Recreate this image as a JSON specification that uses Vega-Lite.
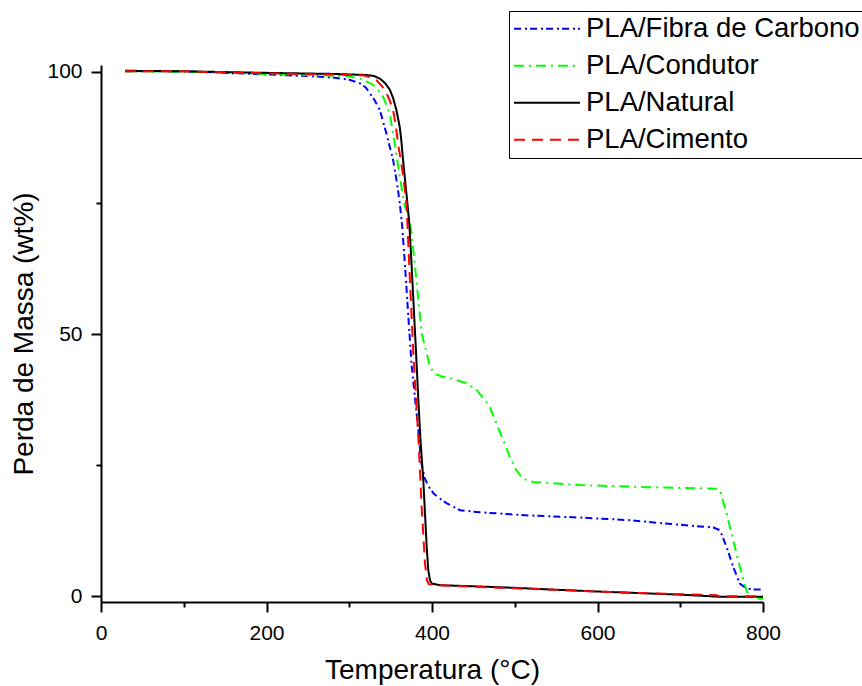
{
  "$schema": "https://vega.github.io/schema/vega-lite/v6.json",
  "autosize": {"type": "none"},
  "padding": {"left": 101, "top": 65, "right": 99, "bottom": 84},
  "width": 662,
  "height": 537,
  "background": "white",
  "config": {
    "font": "Liberation Sans",
    "view": {"stroke": null},
    "axis": {
      "grid": false,
      "domainColor": "black",
      "domainWidth": 2,
      "tickColor": "black",
      "tickWidth": 2,
      "labelColor": "black",
      "labelFontSize": 21,
      "labelFont": "Liberation Sans",
      "labelFlush": false,
      "titleColor": "black",
      "titleFontSize": 28,
      "titleFontWeight": "normal",
      "titleFont": "Liberation Sans"
    },
    "legend": {
      "title": null,
      "orient": "none",
      "legendX": 408,
      "legendY": -54,
      "padding": 4,
      "strokeColor": "black",
      "fillColor": "white",
      "labelFontSize": 27.5,
      "labelFont": "Liberation Sans",
      "labelColor": "black",
      "labelOffset": 5,
      "labelLimit": 500,
      "rowPadding": 8,
      "clipHeight": 27.5,
      "symbolType": "stroke",
      "symbolSize": 4356,
      "symbolStrokeWidth": 2
    }
  },
  "data": {
    "values": [
      {"s": "PLA/Fibra de Carbono", "T": 29, "W": 100.1},
      {"s": "PLA/Fibra de Carbono", "T": 100, "W": 100.1},
      {"s": "PLA/Fibra de Carbono", "T": 150, "W": 99.8},
      {"s": "PLA/Fibra de Carbono", "T": 200, "W": 99.5},
      {"s": "PLA/Fibra de Carbono", "T": 250, "W": 99.2},
      {"s": "PLA/Fibra de Carbono", "T": 280, "W": 98.9},
      {"s": "PLA/Fibra de Carbono", "T": 300, "W": 98.5},
      {"s": "PLA/Fibra de Carbono", "T": 313, "W": 97.8},
      {"s": "PLA/Fibra de Carbono", "T": 320, "W": 97},
      {"s": "PLA/Fibra de Carbono", "T": 325, "W": 95.9},
      {"s": "PLA/Fibra de Carbono", "T": 331, "W": 94.5},
      {"s": "PLA/Fibra de Carbono", "T": 337, "W": 92.7},
      {"s": "PLA/Fibra de Carbono", "T": 345, "W": 88.2},
      {"s": "PLA/Fibra de Carbono", "T": 353, "W": 83.2},
      {"s": "PLA/Fibra de Carbono", "T": 358, "W": 78.5},
      {"s": "PLA/Fibra de Carbono", "T": 361, "W": 75},
      {"s": "PLA/Fibra de Carbono", "T": 364, "W": 70.5},
      {"s": "PLA/Fibra de Carbono", "T": 367.4, "W": 63},
      {"s": "PLA/Fibra de Carbono", "T": 371.4, "W": 53.3},
      {"s": "PLA/Fibra de Carbono", "T": 375.4, "W": 44},
      {"s": "PLA/Fibra de Carbono", "T": 379, "W": 38.5},
      {"s": "PLA/Fibra de Carbono", "T": 383.5, "W": 31.7},
      {"s": "PLA/Fibra de Carbono", "T": 387, "W": 25.5},
      {"s": "PLA/Fibra de Carbono", "T": 391, "W": 22.6},
      {"s": "PLA/Fibra de Carbono", "T": 396, "W": 20.9},
      {"s": "PLA/Fibra de Carbono", "T": 402, "W": 19.6},
      {"s": "PLA/Fibra de Carbono", "T": 408, "W": 18.8},
      {"s": "PLA/Fibra de Carbono", "T": 418, "W": 17.7},
      {"s": "PLA/Fibra de Carbono", "T": 434, "W": 16.4},
      {"s": "PLA/Fibra de Carbono", "T": 458, "W": 16.0},
      {"s": "PLA/Fibra de Carbono", "T": 518, "W": 15.4},
      {"s": "PLA/Fibra de Carbono", "T": 579, "W": 15.0},
      {"s": "PLA/Fibra de Carbono", "T": 639, "W": 14.5},
      {"s": "PLA/Fibra de Carbono", "T": 680, "W": 13.9},
      {"s": "PLA/Fibra de Carbono", "T": 740, "W": 13.1},
      {"s": "PLA/Fibra de Carbono", "T": 748, "W": 12.6},
      {"s": "PLA/Fibra de Carbono", "T": 756, "W": 9.4},
      {"s": "PLA/Fibra de Carbono", "T": 764, "W": 5.6},
      {"s": "PLA/Fibra de Carbono", "T": 772, "W": 2.4},
      {"s": "PLA/Fibra de Carbono", "T": 780, "W": 1.5},
      {"s": "PLA/Fibra de Carbono", "T": 790, "W": 1.3},
      {"s": "PLA/Fibra de Carbono", "T": 800, "W": 1.3},

      {"s": "PLA/Condutor", "T": 29, "W": 100.1},
      {"s": "PLA/Condutor", "T": 100, "W": 100.0},
      {"s": "PLA/Condutor", "T": 150, "W": 99.8},
      {"s": "PLA/Condutor", "T": 200, "W": 99.6},
      {"s": "PLA/Condutor", "T": 250, "W": 99.4},
      {"s": "PLA/Condutor", "T": 297, "W": 99.2},
      {"s": "PLA/Condutor", "T": 313, "W": 98.7},
      {"s": "PLA/Condutor", "T": 322, "W": 98.1},
      {"s": "PLA/Condutor", "T": 329, "W": 97.5},
      {"s": "PLA/Condutor", "T": 335, "W": 96.5},
      {"s": "PLA/Condutor", "T": 341, "W": 95.2},
      {"s": "PLA/Condutor", "T": 349, "W": 92},
      {"s": "PLA/Condutor", "T": 355, "W": 86.3},
      {"s": "PLA/Condutor", "T": 361, "W": 80},
      {"s": "PLA/Condutor", "T": 367, "W": 74.5},
      {"s": "PLA/Condutor", "T": 371, "W": 73},
      {"s": "PLA/Condutor", "T": 375.4, "W": 69.2},
      {"s": "PLA/Condutor", "T": 379.5, "W": 62.8},
      {"s": "PLA/Condutor", "T": 383.5, "W": 56.5},
      {"s": "PLA/Condutor", "T": 387.5, "W": 50.1},
      {"s": "PLA/Condutor", "T": 392.7, "W": 46.9},
      {"s": "PLA/Condutor", "T": 397.6, "W": 43.7},
      {"s": "PLA/Condutor", "T": 403.6, "W": 42.4},
      {"s": "PLA/Condutor", "T": 412, "W": 41.9},
      {"s": "PLA/Condutor", "T": 426, "W": 41.4},
      {"s": "PLA/Condutor", "T": 442, "W": 40.6},
      {"s": "PLA/Condutor", "T": 454, "W": 39.3},
      {"s": "PLA/Condutor", "T": 464, "W": 37.4},
      {"s": "PLA/Condutor", "T": 470, "W": 36.0},
      {"s": "PLA/Condutor", "T": 478, "W": 32.9},
      {"s": "PLA/Condutor", "T": 486, "W": 29.8},
      {"s": "PLA/Condutor", "T": 494, "W": 26.6},
      {"s": "PLA/Condutor", "T": 502, "W": 24.0},
      {"s": "PLA/Condutor", "T": 510, "W": 22.4},
      {"s": "PLA/Condutor", "T": 522, "W": 21.8},
      {"s": "PLA/Condutor", "T": 579, "W": 21.2},
      {"s": "PLA/Condutor", "T": 659, "W": 20.8},
      {"s": "PLA/Condutor", "T": 744, "W": 20.5},
      {"s": "PLA/Condutor", "T": 748, "W": 20.2},
      {"s": "PLA/Condutor", "T": 756, "W": 15.8},
      {"s": "PLA/Condutor", "T": 764, "W": 10.7},
      {"s": "PLA/Condutor", "T": 772, "W": 5.6},
      {"s": "PLA/Condutor", "T": 780, "W": 1.1},
      {"s": "PLA/Condutor", "T": 784, "W": -0.1},
      {"s": "PLA/Condutor", "T": 792, "W": -0.5},
      {"s": "PLA/Condutor", "T": 800, "W": -0.5},

      {"s": "PLA/Natural", "T": 29, "W": 100.2},
      {"s": "PLA/Natural", "T": 100, "W": 100.1},
      {"s": "PLA/Natural", "T": 200, "W": 99.8},
      {"s": "PLA/Natural", "T": 280, "W": 99.6},
      {"s": "PLA/Natural", "T": 321, "W": 99.4},
      {"s": "PLA/Natural", "T": 330, "W": 99.2},
      {"s": "PLA/Natural", "T": 337, "W": 98.7},
      {"s": "PLA/Natural", "T": 343, "W": 97.9},
      {"s": "PLA/Natural", "T": 349, "W": 96.6},
      {"s": "PLA/Natural", "T": 353, "W": 95},
      {"s": "PLA/Natural", "T": 357, "W": 92.7},
      {"s": "PLA/Natural", "T": 361, "W": 89.5},
      {"s": "PLA/Natural", "T": 363, "W": 86.8},
      {"s": "PLA/Natural", "T": 365, "W": 83.2},
      {"s": "PLA/Natural", "T": 369.4, "W": 76.3},
      {"s": "PLA/Natural", "T": 372.6, "W": 71},
      {"s": "PLA/Natural", "T": 375.4, "W": 63},
      {"s": "PLA/Natural", "T": 381.5, "W": 44},
      {"s": "PLA/Natural", "T": 383.5, "W": 37.4},
      {"s": "PLA/Natural", "T": 386, "W": 30},
      {"s": "PLA/Natural", "T": 389.5, "W": 22.1},
      {"s": "PLA/Natural", "T": 393.6, "W": 9.4},
      {"s": "PLA/Natural", "T": 395.5, "W": 5},
      {"s": "PLA/Natural", "T": 397.6, "W": 3.0},
      {"s": "PLA/Natural", "T": 400, "W": 2.4},
      {"s": "PLA/Natural", "T": 410, "W": 2.1},
      {"s": "PLA/Natural", "T": 450, "W": 1.9},
      {"s": "PLA/Natural", "T": 500, "W": 1.6},
      {"s": "PLA/Natural", "T": 555, "W": 1.2},
      {"s": "PLA/Natural", "T": 600, "W": 0.9},
      {"s": "PLA/Natural", "T": 650, "W": 0.6},
      {"s": "PLA/Natural", "T": 700, "W": 0.3},
      {"s": "PLA/Natural", "T": 748, "W": -0.1},
      {"s": "PLA/Natural", "T": 800, "W": -0.1},

      {"s": "PLA/Cimento", "T": 29, "W": 100.1},
      {"s": "PLA/Cimento", "T": 100, "W": 100.1},
      {"s": "PLA/Cimento", "T": 200, "W": 99.7},
      {"s": "PLA/Cimento", "T": 280, "W": 99.5},
      {"s": "PLA/Cimento", "T": 318, "W": 99.3},
      {"s": "PLA/Cimento", "T": 325, "W": 99.0},
      {"s": "PLA/Cimento", "T": 333, "W": 98.4},
      {"s": "PLA/Cimento", "T": 340, "W": 97.2},
      {"s": "PLA/Cimento", "T": 345, "W": 95.9},
      {"s": "PLA/Cimento", "T": 349, "W": 94.5},
      {"s": "PLA/Cimento", "T": 353, "W": 92.7},
      {"s": "PLA/Cimento", "T": 356, "W": 90},
      {"s": "PLA/Cimento", "T": 359, "W": 86.3},
      {"s": "PLA/Cimento", "T": 365.4, "W": 80},
      {"s": "PLA/Cimento", "T": 369.4, "W": 74.3},
      {"s": "PLA/Cimento", "T": 373.4, "W": 60},
      {"s": "PLA/Cimento", "T": 377.5, "W": 46},
      {"s": "PLA/Cimento", "T": 381, "W": 37},
      {"s": "PLA/Cimento", "T": 384, "W": 29},
      {"s": "PLA/Cimento", "T": 387.5, "W": 17},
      {"s": "PLA/Cimento", "T": 391.5, "W": 6.3},
      {"s": "PLA/Cimento", "T": 394, "W": 3},
      {"s": "PLA/Cimento", "T": 396, "W": 2.3},
      {"s": "PLA/Cimento", "T": 410, "W": 2.1},
      {"s": "PLA/Cimento", "T": 450, "W": 1.8},
      {"s": "PLA/Cimento", "T": 500, "W": 1.5},
      {"s": "PLA/Cimento", "T": 555, "W": 1.2},
      {"s": "PLA/Cimento", "T": 600, "W": 0.9},
      {"s": "PLA/Cimento", "T": 650, "W": 0.6},
      {"s": "PLA/Cimento", "T": 700, "W": 0.4},
      {"s": "PLA/Cimento", "T": 744, "W": 0.2},
      {"s": "PLA/Cimento", "T": 748, "W": -0.1},
      {"s": "PLA/Cimento", "T": 752, "W": 0.0},
      {"s": "PLA/Cimento", "T": 800, "W": 0.0}
    ]
  },
  "mark": {"type": "line", "strokeWidth": 2, "clip": true},
  "encoding": {
    "x": {
      "field": "T",
      "type": "quantitative",
      "scale": {"domain": [0, 800], "nice": false, "zero": false},
      "axis": {
        "title": "Temperatura (°C)",
        "values": [0, 100, 200, 300, 400, 500, 600, 700, 800],
        "labelExpr": "datum.value % 200 === 0 ? datum.label : ''",
        "tickSize": {"condition": {"test": "datum.value % 200 === 0", "value": 10}, "value": 5},
        "labelPadding": 10,
        "titlePadding": 13,
        "format": "d"
      }
    },
    "y": {
      "field": "W",
      "type": "quantitative",
      "scale": {"domain": [-1.1, 101.3], "nice": false, "zero": false},
      "axis": {
        "title": "Perda de Massa (wt%)",
        "values": [0, 25, 50, 75, 100],
        "labelExpr": "datum.value % 50 === 0 ? datum.label : ''",
        "tickSize": {"condition": {"test": "datum.value % 50 === 0", "value": 10}, "value": 5},
        "labelPadding": 9,
        "titlePadding": 8,
        "format": "d"
      }
    },
    "color": {
      "field": "s",
      "type": "nominal",
      "scale": {
        "domain": ["PLA/Fibra de Carbono", "PLA/Condutor", "PLA/Natural", "PLA/Cimento"],
        "range": ["#0000FF", "#00FF00", "#000000", "#FF0000"]
      },
      "legend": {"title": null}
    },
    "strokeDash": {
      "field": "s",
      "type": "nominal",
      "scale": {
        "domain": ["PLA/Fibra de Carbono", "PLA/Condutor", "PLA/Natural", "PLA/Cimento"],
        "range": [[7, 4, 2, 3], [10, 5, 2, 5], [1, 0], [11, 7]]
      },
      "legend": {"title": null}
    }
  }
}
